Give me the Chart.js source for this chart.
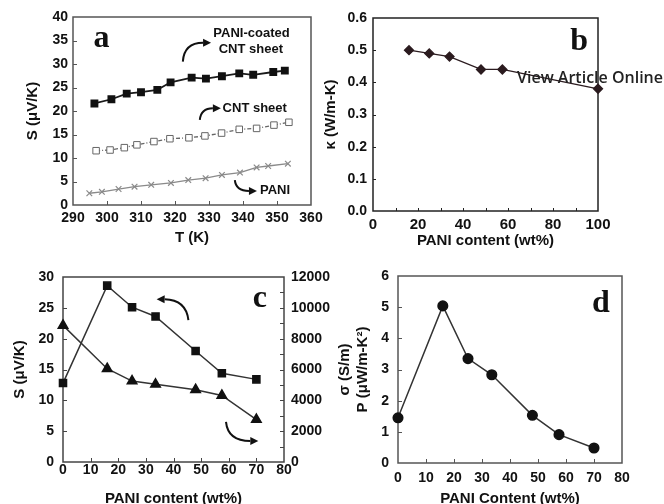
<!DOCTYPE html>
<html lang="en">
<head>
<meta charset="UTF-8" />
<title>PANI / CNT sheet thermoelectric properties</title>
<script src="https://cdn.jsdelivr.net/npm/chart.js"></script>
<style>
  html, body { margin: 0; padding: 0; background: #fff; overflow: hidden; }
  body { width: 664px; height: 504px; position: relative; }
  canvas { position: absolute; }
  #watermark {
    position: absolute; left: 517px; top: 66px;
    font: 600 16px "Open Sans", sans-serif; color: #222; white-space: nowrap;
  }
</style>
</head>
<body>
  <canvas id="chartA" width="330" height="250" style="left:0;top:0"></canvas>
  <canvas id="chartB" width="354" height="250" style="left:310px;top:0"></canvas>
  <canvas id="chartC" width="360" height="254" style="left:0;top:250px"></canvas>
  <canvas id="chartD" width="314" height="254" style="left:350px;top:250px"></canvas>
  <div id="watermark">View Article Online</div>

<script>
// (a) Seebeck coefficient vs temperature
const tempCoated    = [296.3, 301.3, 305.8, 310.0, 314.8, 318.7, 324.9, 329.1, 333.8, 338.9, 343.0, 348.9, 352.3];
const seebeckCoated = [21.6, 22.5, 23.7, 24.0, 24.5, 26.1, 27.1, 26.9, 27.4, 28.0, 27.7, 28.3, 28.6];
const tempCnt       = [296.8, 300.9, 305.1, 308.8, 313.8, 318.5, 324.1, 328.8, 333.7, 338.9, 344.0, 349.1, 353.5];
const seebeckCnt    = [11.55, 11.7, 12.2, 12.8, 13.5, 14.1, 14.3, 14.7, 15.3, 16.1, 16.3, 17.0, 17.6];
const tempPani      = [294.8, 298.5, 303.4, 308.1, 313.0, 318.8, 323.9, 329.0, 333.8, 339.1, 344.0, 347.4, 353.2];
const seebeckPani   = [2.5, 2.8, 3.4, 3.9, 4.3, 4.7, 5.3, 5.7, 6.4, 6.9, 8.0, 8.3, 8.8];

// (b) thermal conductivity vs PANI content
const kappaContent = [16, 25, 34, 48, 57.5, 100];
const kappa        = [0.50, 0.49, 0.48, 0.44, 0.44, 0.38];

// (c) and (d) vs PANI content
const content      = [0, 16, 25, 33.5, 48, 57.5, 70];
const seebeckFilm  = [12.8, 28.6, 25.1, 23.6, 18.0, 14.4, 13.4];
const sigmaFilm    = [8860, 6050, 5250, 5040, 4690, 4320, 2750];
const powerFactor  = [1.45, 5.04, 3.35, 2.83, 1.53, 0.91, 0.48];

// tick marks
const tempTicks     = [300, 310, 320, 330, 340, 350];
const seebeckTicksA = [5, 10, 15, 20, 25, 30, 35];
const contentTicksB = [10, 20, 30, 40, 50, 60, 70, 80, 90];
const kappaTicks    = [0.1, 0.2, 0.3, 0.4, 0.5];
const contentTicks  = [10, 20, 30, 40, 50, 60, 70];
const sigmaTicks    = [1000, 2000, 3000, 4000, 5000, 6000, 7000, 8000, 9000, 10000, 11000];
const seebeckTicksC = [5, 10, 15, 20, 25];
const powerTicks    = [1, 2, 3, 4, 5];

Chart.defaults.font.family = '"Liberation Sans", Arial, sans-serif';
Chart.defaults.font.weight = 'bold';
Chart.defaults.font.size = 14;
Chart.defaults.color = '#111';
Chart.defaults.animation = false;
Chart.defaults.plugins.legend.display = false;
Chart.defaults.plugins.tooltip.enabled = false;

const pts = (xs, ys) => xs.map((x, i) => ({ x, y: ys[i] }));

// frame, inner tick marks, arrows and labels
const decor = {
  id: 'decor',
  beforeDatasetsDraw(chart, args, opts) {
    const { ctx, chartArea: a } = chart;
    ctx.save();
    ctx.strokeStyle = opts.frame || '#444';
    ctx.lineWidth = 1.5;
    ctx.strokeRect(a.left, a.top, a.right - a.left, a.bottom - a.top);
    ctx.lineWidth = 1;
    (opts.ticks || []).forEach(t => {
      const s = chart.scales[t.scale];
      t.values.forEach(v => {
        const p = Math.round(s.getPixelForValue(v)) + 0.5;
        ctx.beginPath();
        if (s.isHorizontal()) { ctx.moveTo(p, a.bottom); ctx.lineTo(p, a.bottom - t.len); }
        else if (s.position === 'right') { ctx.moveTo(a.right, p); ctx.lineTo(a.right - t.len, p); }
        else { ctx.moveTo(a.left, p); ctx.lineTo(a.left + t.len, p); }
        ctx.stroke();
      });
    });
    ctx.restore();
  },
  afterDatasetsDraw(chart, args, opts) {
    const { ctx } = chart;
    const xs = chart.scales.x, ys = chart.scales.y;
    const P = p => [xs.getPixelForValue(p[0]), ys.getPixelForValue(p[1])];
    ctx.save();
    (opts.arrows || []).forEach(ar => {
      const [x0, y0] = P(ar.from), [cx, cy] = P(ar.ctrl), [x1, y1] = P(ar.to);
      const ang = Math.atan2(y1 - cy, x1 - cx);
      const L = 8, W = 4;
      const bx = x1 - Math.cos(ang) * L, by = y1 - Math.sin(ang) * L;
      ctx.strokeStyle = '#111'; ctx.fillStyle = '#111'; ctx.lineWidth = 2;
      ctx.beginPath(); ctx.moveTo(x0, y0); ctx.quadraticCurveTo(cx, cy, bx, by); ctx.stroke();
      ctx.beginPath();
      ctx.moveTo(x1, y1);
      ctx.lineTo(bx - Math.sin(ang) * W, by + Math.cos(ang) * W);
      ctx.lineTo(bx + Math.sin(ang) * W, by - Math.cos(ang) * W);
      ctx.closePath(); ctx.fill();
    });
    (opts.texts || []).forEach(t => {
      const [x, y] = P(t.at);
      ctx.font = t.font;
      ctx.fillStyle = '#111';
      ctx.textAlign = t.align || 'center';
      ctx.textBaseline = t.baseline || 'middle';
      ctx.fillText(t.text, x, y);
    });
    if (opts.rightTitle) {
      const s = chart.scales.y2;
      ctx.font = 'bold 15px "Liberation Sans", Arial, sans-serif';
      ctx.fillStyle = '#111';
      ctx.textAlign = 'center';
      ctx.textBaseline = 'middle';
      ctx.translate(s.right - opts.rightTitle.offset, (chart.chartArea.top + chart.chartArea.bottom) / 2);
      ctx.rotate(-Math.PI / 2);
      ctx.fillText(opts.rightTitle.text, 0, 0);
    }
    ctx.restore();
  }
};

function xAxis(min, max, step, height, labelPad, title, titlePad, size) {
  return {
    type: 'linear', min, max,
    grid: { display: false, drawTicks: false }, border: { display: false },
    ticks: { stepSize: step, padding: labelPad, maxRotation: 0, autoSkip: false, font: { size: size || 14 } },
    title: { display: true, text: title, font: { size: 15, weight: 'bold' }, padding: { top: 0, bottom: titlePad } },
    afterFit: s => { s.height = height; }
  };
}
function yAxis(min, max, step, width, labelPad, title, titlePad, fmt) {
  return {
    type: 'linear', min, max,
    grid: { display: false, drawTicks: false }, border: { display: false },
    ticks: { stepSize: step, padding: labelPad, autoSkip: false, callback: fmt || (v => String(v)) },
    title: { display: true, text: title, font: { size: 15, weight: 'bold' }, padding: { top: titlePad, bottom: 0 } },
    afterFit: s => { s.width = width; }
  };
}
const serif = 'bold 32px "Liberation Serif", "Times New Roman", serif';
const label13 = 'bold 13px "Liberation Sans", Arial, sans-serif';

// (a)
new Chart(document.getElementById('chartA'), {
  type: 'line',
  data: {
    datasets: [
      { data: pts(tempCoated, seebeckCoated), borderColor: '#1a1a1a', borderWidth: 1.8,
        pointStyle: 'rect', pointRadius: 4.3, pointBackgroundColor: '#111', pointBorderColor: '#111' },
      { data: pts(tempCnt, seebeckCnt), borderColor: '#666', borderWidth: 1.3, borderDash: [4, 2, 1, 2],
        pointStyle: 'rect', pointRadius: 4.6, pointBackgroundColor: '#fff', pointBorderColor: '#666', pointBorderWidth: 1 },
      { data: pts(tempPani, seebeckPani), borderColor: '#8a8a8a', borderWidth: 1.3,
        pointStyle: 'crossRot', pointRadius: 4, pointBorderColor: '#8a8a8a', pointBorderWidth: 1.2 }
    ]
  },
  options: {
    responsive: false,
    layout: { padding: { left: 0, right: 19, top: 17, bottom: 0 } },
    scales: {
      x: xAxis(290, 360, 10, 45, 5, 'T (K)', 3),
      y: yAxis(0, 40, 5, 73, 5, 'S (\u03bcV/K)', 24)
    },
    plugins: {
      decor: {
        frame: '#555',
        ticks: [{ scale: 'x', values: tempTicks, len: 4 }, { scale: 'y', values: seebeckTicksA, len: 4 }],
        arrows: [
          { from: [322.3, 30.5], ctrl: [322.7, 34.5], to: [330.6, 34.5] },
          { from: [327.3, 18.1], ctrl: [327.6, 20.6], to: [333.5, 20.6] },
          { from: [337.6, 5.3], ctrl: [337.9, 3.0], to: [344.1, 3.0] }
        ],
        texts: [
          { text: 'PANI-coated', at: [342.5, 36.5], font: label13 },
          { text: 'CNT sheet', at: [342.3, 33.0], font: label13 },
          { text: 'CNT sheet', at: [334.0, 20.6], font: label13, align: 'left' },
          { text: 'PANI', at: [345.0, 3.0], font: label13, align: 'left' },
          { text: 'a', at: [298.4, 33.6], font: serif, baseline: 'alphabetic' }
        ]
      }
    }
  },
  plugins: [decor]
});

// (b)
new Chart(document.getElementById('chartB'), {
  type: 'line',
  data: {
    datasets: [
      { data: pts(kappaContent, kappa), borderColor: '#2b1b1f', borderWidth: 1.3, clip: false,
        pointStyle: 'rectRot', pointRadius: 4.5, pointBackgroundColor: '#2b1b1f', pointBorderColor: '#2b1b1f' }
    ]
  },
  options: {
    responsive: false,
    layout: { padding: { left: 0, right: 66, top: 18, bottom: 0 } },
    scales: {
      x: xAxis(0, 100, 20, 39, 5, 'PANI content (wt%)', 0, 15),
      y: yAxis(0, 0.6, 0.1, 63, 6, '\u03ba (W/m-K)', 12, v => v.toFixed(1))
    },
    plugins: {
      decor: {
        frame: '#222',
        ticks: [{ scale: 'x', values: contentTicksB, len: 3 }, { scale: 'y', values: kappaTicks, len: 3 }],
        texts: [{ text: 'b', at: [91.6, 0.50], font: serif, baseline: 'alphabetic' }]
      }
    }
  },
  plugins: [decor]
});

// (c)
new Chart(document.getElementById('chartC'), {
  type: 'line',
  data: {
    datasets: [
      { data: pts(content, seebeckFilm), yAxisID: 'y', borderColor: '#333', borderWidth: 1.5, clip: false,
        pointStyle: 'rect', pointRadius: 5, pointBackgroundColor: '#111', pointBorderColor: '#111' },
      { data: pts(content, sigmaFilm), yAxisID: 'y2', borderColor: '#333', borderWidth: 1.5, clip: false,
        pointStyle: 'triangle', pointRadius: 5.5, pointBackgroundColor: '#111', pointBorderColor: '#111' }
    ]
  },
  options: {
    responsive: false,
    layout: { padding: { left: 0, right: 0, top: 27, bottom: 0 } },
    scales: {
      x: xAxis(0, 80, 10, 42, 0, 'PANI content (wt%)', -4),
      y: yAxis(0, 30, 5, 63, 9, 'S (\u03bcV/K)', 11),
      y2: {
        type: 'linear', position: 'right', min: 0, max: 12000,
        grid: { display: false, drawTicks: false }, border: { display: false },
        ticks: { stepSize: 2000, padding: 7, autoSkip: false, callback: v => String(v) },
        afterFit: s => { s.width = 76; }
      }
    },
    plugins: {
      decor: {
        frame: '#444',
        ticks: [
          { scale: 'x', values: contentTicks, len: 4 },
          { scale: 'y', values: seebeckTicksC, len: 4 },
          { scale: 'y2', values: sigmaTicks, len: 4 }
        ],
        arrows: [
          { from: [45.4, 23.0], ctrl: [44.5, 26.3], to: [33.9, 26.4] },
          { from: [59.0, 6.5], ctrl: [59.7, 3.4], to: [70.7, 3.4] }
        ],
        texts: [{ text: 'c', at: [71.3, 25.1], font: serif, baseline: 'alphabetic' }],
        rightTitle: { text: '\u03c3 (S/m)', offset: 15 }
      }
    }
  },
  plugins: [decor]
});

// (d)
new Chart(document.getElementById('chartD'), {
  type: 'line',
  data: {
    datasets: [
      { data: pts(content, powerFactor), borderColor: '#333', borderWidth: 1.5, clip: false,
        pointStyle: 'circle', pointRadius: 4.8, pointBackgroundColor: '#111', pointBorderColor: '#111' }
    ]
  },
  options: {
    responsive: false,
    layout: { padding: { left: 0, right: 42, top: 26, bottom: 0 } },
    scales: {
      x: xAxis(0, 80, 10, 41, 7, 'PANI Content (wt%)', -4),
      y: yAxis(0, 6, 1, 48, 9, 'P (\u03bcW/m-K\u00b2)', 4)
    },
    plugins: {
      decor: {
        frame: '#555',
        ticks: [{ scale: 'x', values: contentTicks, len: 4 }, { scale: 'y', values: powerTicks, len: 4 }],
        texts: [{ text: 'd', at: [72.5, 4.84], font: serif, baseline: 'alphabetic' }]
      }
    }
  },
  plugins: [decor]
});
</script>
</body>
</html>
